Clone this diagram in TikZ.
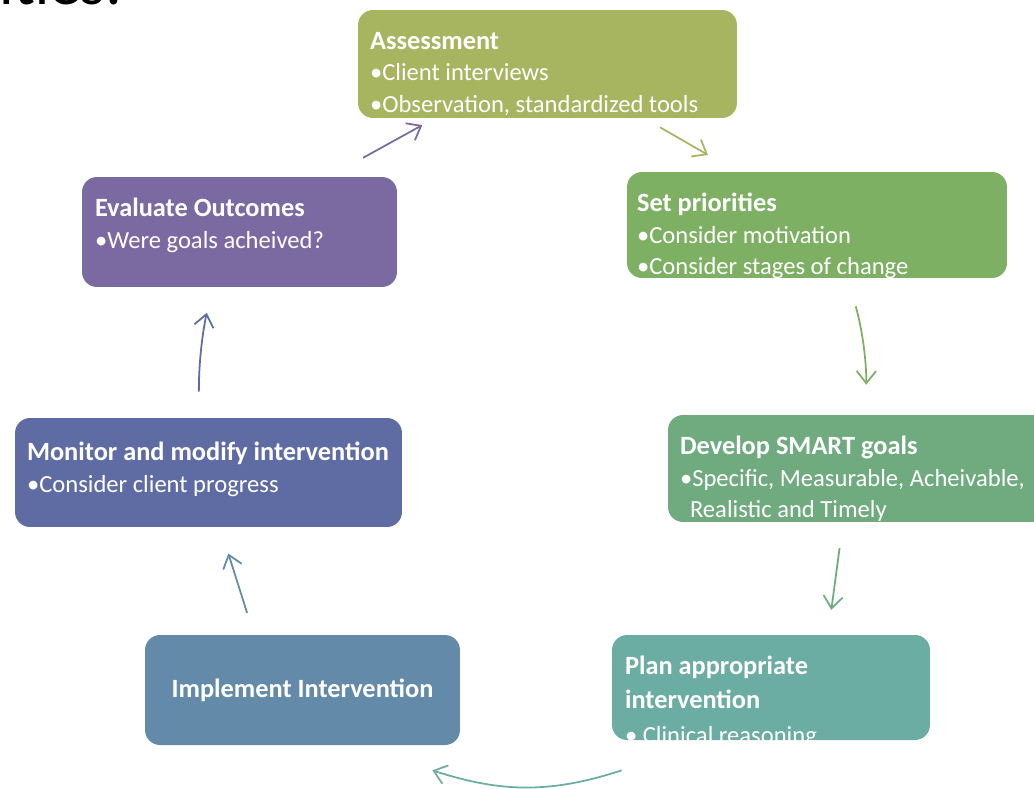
\documentclass[tikz,border=0pt]{standalone}
\usepackage{fontspec}
\setmainfont{Carlito}
\usetikzlibrary{arrows.meta}
\usetikzlibrary{positioning}

\definecolor{assesscol}{RGB}{167,181,96}
\definecolor{priocol}{RGB}{125,176,99}
\definecolor{smartcol}{RGB}{111,171,126}
\definecolor{plancol}{RGB}{108,173,163}
\definecolor{implcol}{RGB}{99,138,168}
\definecolor{monitorcol}{RGB}{94,108,163}
\definecolor{evalcol}{RGB}{123,105,162}

\newcommand{\stagehead}[1]{{\fontsize{15}{18}\selectfont\bfseries #1}}

\begin{document}
\begin{tikzpicture}[x=0.02cm, y=-0.02cm, stage/.style={rectangle, rounded corners=0.3cm, inner sep=0pt}, txt/.style={inner sep=0pt, text=white, align=left, font=\fontsize{14}{18}\selectfont}, arrow/.style={line width=1pt, ->, >={Straight Barb[length=7pt,width=11pt]}}]
\useasboundingbox (0,0) rectangle (1034,788);
\clip (0,0) rectangle (1034,788);

% cut off heading at the top edge
\node [anchor=base east, inner sep=0pt, font=\fontsize{36}{40}\selectfont] (heading) at (123,4) {ities:};

% the seven stages
\node [stage, fill=assesscol, minimum width=7.58cm, minimum height=2.16cm] (assess) at (547.5,64) {};
\node [stage, fill=priocol, minimum width=7.6cm, minimum height=2.12cm] (prio) at (817,225) {};
\node [stage, fill=smartcol, minimum width=7.6cm, minimum height=2.14cm] (smart) at (858,468.5) {};
\node [stage, fill=plancol, minimum width=6.36cm, minimum height=2.1cm] (plan) at (771,687.5) {};
\node [stage, fill=implcol, minimum width=6.3cm, minimum height=2.2cm, text=white] (impl) at (302.5,690) {\stagehead{Implement Intervention}};
\node [stage, fill=monitorcol, minimum width=7.74cm, minimum height=2.18cm] (monitor) at (208.5,472.5) {};
\node [stage, fill=evalcol, minimum width=6.3cm, minimum height=2.2cm] (eval) at (239.5,232) {};

\node [txt, below right=0.44cm and 0.24cm of assess.north west] (assesstxt) {\stagehead{Assessment}\\•Client interviews\\•Observation, standardized tools};
\node [txt, below right=0.42cm and 0.2cm of prio.north west] (priotxt) {\stagehead{Set priorities}\\•Consider motivation\\•Consider stages of change};
\node [txt, below right=0.42cm and 0.24cm of smart.north west] (smarttxt) {\stagehead{Develop SMART goals}\\•Specific, Measurable, Acheivable,\\\hspace*{0.2cm}Realistic and Timely};
\node [txt, font=\fontsize{14}{19.5}\selectfont, below right=0.42cm and 0.26cm of plan.north west] (plantxt) {\stagehead{Plan appropriate}\\\stagehead{intervention}\\• Clinical reasoning};
\node [txt, below right=0.48cm and 0.24cm of monitor.north west] (monitortxt) {\stagehead{Monitor and modify intervention}\\•Consider client progress};
\node [txt, below right=0.42cm and 0.26cm of eval.north west] (evaltxt) {\stagehead{Evaluate Outcomes}\\•Were goals acheived?};

% cycle arrows
\draw [arrow, draw=evalcol, shorten <=0.78cm, shorten >=0.28cm] ([xshift=1.79cm]eval.north) -- ([xshift=-2.26cm]assess.south);
\draw [arrow, draw=assesscol, shorten <=0.36cm, shorten >=0.67cm] ([xshift=1.94cm]assess.south) -- ([xshift=-1.6cm]prio.north);
\draw [arrow, draw=priocol, shorten <=0.58cm, shorten >=0.6cm] ([xshift=0.62cm]prio.south) to [bend left=8] ([xshift=0.16cm]smart.north);
\draw [arrow, draw=smartcol, shorten <=0.52cm, shorten >=0.5cm] ([xshift=-0.3cm]smart.south) -- ([xshift=1.14cm]plan.north);
\draw [arrow, draw=plancol] ([shift={(0.2cm,-0.6cm)}]plan.south west) to [bend left=18] ([shift={(-0.56cm,-0.5cm)}]impl.south east);
\draw [arrow, draw=implcol, shorten <=0.46cm, shorten >=0.55cm] ([xshift=-0.97cm]impl.north) -- ([xshift=0.23cm]monitor.south);
\draw [arrow, draw=monitorcol, shorten <=0.52cm, shorten >=0.52cm] ([xshift=-0.19cm]monitor.north) to [bend left=6] ([xshift=-0.55cm]eval.south);
\end{tikzpicture}
\end{document}
